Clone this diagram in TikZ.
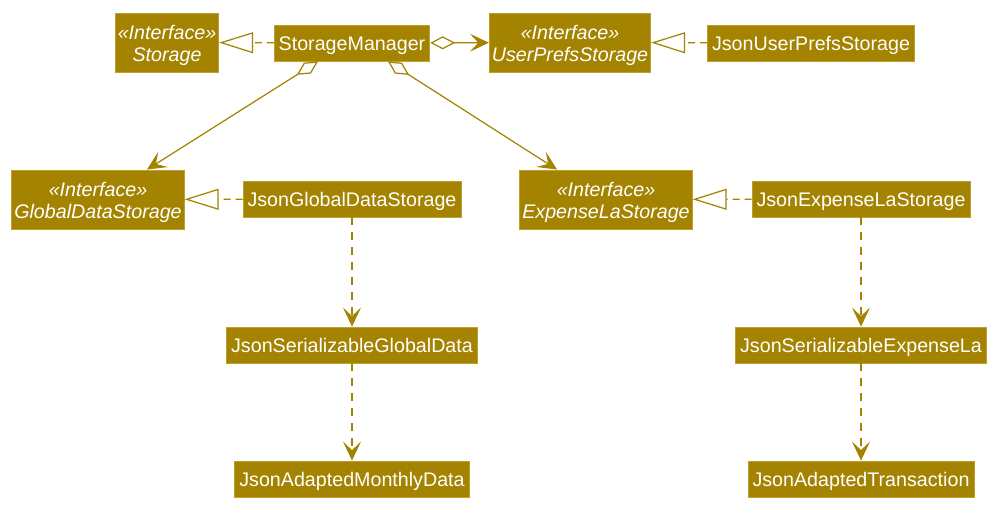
\documentclass[tikz,border=0pt]{standalone}
\usepackage{fontspec}
\setmainfont{Liberation Sans}
\usepackage{tikz}
\usetikzlibrary{positioning, arrows.meta}
\definecolor{umlgold}{RGB}{163,131,0}
\definecolor{umledge}{RGB}{190,160,45}
\newcommand{\stereo}[1]{\rule{0pt}{11.5pt}«Interface»\\#1}

\begin{document}
\begin{tikzpicture}[x=0.02cm, y=-0.02cm,
        cls/.style={fill=umlgold, draw=umledge, line width=0.5pt, text=white,
            font=\fontsize{11.2}{12.6}\selectfont, minimum height=0.72cm, inner xsep=0.09cm,
            text height=10.5pt, text depth=2.3pt},
        iface/.style={fill=umlgold, draw=umledge, line width=0.5pt, text=white,
            font=\fontsize{11.2}{12.6}\selectfont\itshape, align=center,
            minimum height=1.18cm, inner xsep=0.05cm},
        rel/.style={draw=umlgold, line width=0.7pt},
        realize/.style={rel, dash pattern=on 0.14cm off 0.1cm,
            -{Triangle[open, length=0.68cm, width=0.42cm, fill=white]}},
        dep/.style={rel, dash pattern=on 0.16cm off 0.14cm,
            -{Stealth[length=0.38cm, width=0.36cm, inset=0.17cm]}},
        agg/.style={rel, {Diamond[open, length=0.5cm, width=0.26cm, fill=white]}-{Stealth[length=0.38cm, width=0.36cm, inset=0.17cm]}}]
    \useasboundingbox (0,0) rectangle (1004,514);

    \node [iface] (S) at (167, 42.5) {\stereo{Storage}};
    \node [cls] (SM) at (352, 43) {StorageManager};
    \node [iface] (UPS) at (570, 42.5) {\stereo{UserPrefsStorage}};
    \node [cls] (JUPS) at (811, 43) {JsonUserPrefsStorage};

    \node [iface] (GDS) at (98, 199.5) {\stereo{GlobalDataStorage}};
    \node [cls] (JGDS) at (352, 199) {JsonGlobalDataStorage};
    \node [iface] (ELS) at (606, 199.5) {\stereo{ExpenseLaStorage}};
    \node [cls] (JELS) at (861, 199) {JsonExpenseLaStorage};

    \node [cls] (JSGD) at (352, 345) {JsonSerializableGlobalData};
    \node [cls] (JAMD) at (352, 479) {JsonAdaptedMonthlyData};
    \node [cls] (JSEL) at (861, 345) {JsonSerializableExpenseLa};
    \node [cls] (JAT) at (861, 479) {JsonAdaptedTransaction};

    % interfaces
    \draw [realize] (SM) -- (S);
    \draw [realize] (JUPS) -- (UPS);
    \draw [realize] (JGDS) -- (GDS);
    \draw [realize] (JELS) -- (ELS);

    % aggregation
    \draw [agg] (SM) -- (UPS);
    \draw [agg] ([xshift=-0.68cm]SM.south) -- ([xshift=0.98cm]GDS.north);
    \draw [agg] ([xshift=0.72cm]SM.south) -- ([xshift=-0.98cm]ELS.north);

    % dependencies
    \draw [dep] (JGDS) -- (JSGD);
    \draw [dep] (JSGD) -- (JAMD);
    \draw [dep] (JELS) -- (JSEL);
    \draw [dep] (JSEL) -- (JAT);
\end{tikzpicture}
\end{document}
